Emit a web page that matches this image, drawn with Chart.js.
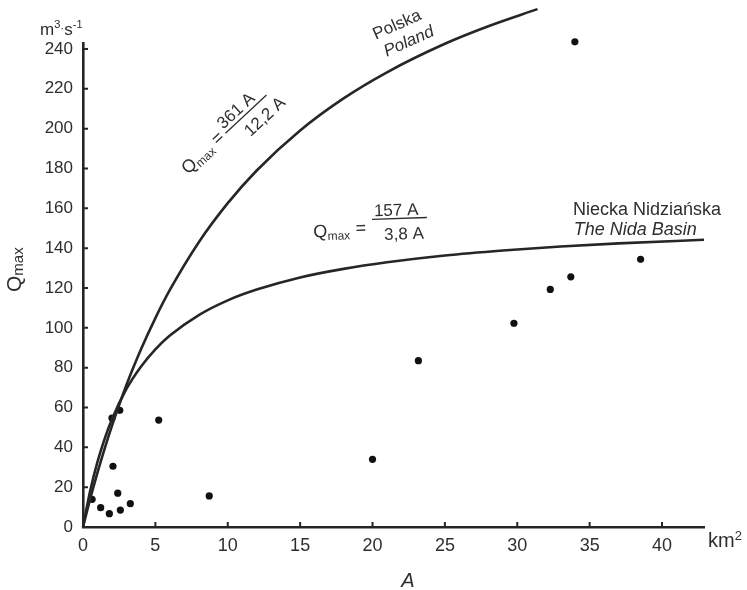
<!DOCTYPE html>
<html>
<head>
<meta charset="utf-8">
<script src="https://cdn.jsdelivr.net/npm/chart.js@4"></script>
<style>
  body { margin: 0; background: #fff; }
  canvas { display: block; }
</style>
</head>
<body>
<canvas id="qmaxChart" width="747" height="590"></canvas>
<script>
// observed maximum discharges (A in km2, Q in m3/s)
const areaObs = [0.63, 1.22, 1.82, 2.58, 3.27, 2.4, 2.07, 2.0, 2.54, 5.23, 8.72, 20.0, 23.17, 29.77, 32.28, 33.7, 33.98, 38.52];
const qObs = [13.9, 9.7, 6.7, 8.5, 11.7, 17, 30.5, 54.7, 58.6, 53.7, 15.6, 34, 83.5, 102.3, 119.3, 125.6, 243.6, 134.4];

// envelope curves
const polskaA = [0, 0.5, 1, 1.5, 2, 3, 4, 5, 6, 8, 10, 12, 15, 18, 21, 25, 28, 31.4];
const polskaQ = [0, 14.2, 27.3, 39.5, 50.8, 71.3, 89.1, 104.9, 119.0, 143.0, 162.6, 179.0, 199.1, 215.2, 228.3, 242.6, 251.4, 260.0];
const nidaA = [0, 0.5, 1, 1.5, 2, 3, 4, 5, 6, 8, 10, 12, 15, 18, 21, 25, 29, 33, 37, 42.9];
const nidaQ = [0, 18.3, 32.7, 44.4, 54.1, 69.3, 80.5, 89.2, 96.1, 106.4, 113.8, 119.2, 125.3, 129.6, 132.9, 136.3, 138.8, 140.8, 142.4, 144.2];

const xTicks = [0, 5, 10, 15, 20, 25, 30, 35, 40];
const yTicks = [0, 20, 40, 60, 80, 100, 120, 140, 160, 180, 200, 220, 240];
const xMax = 42.9;
const yMax = 243;

const FONT = '"Liberation Sans", Arial, sans-serif';
const INK = '#262626';
const TEXT = '#2e2e2e';

const pairs = (xs, ys) => xs.map((x, i) => ({ x: x, y: ys[i] }));

// draws a run of text pieces with their own size / vertical shift
function drawRun(ctx, x, y, parts) {
    ctx.textAlign = 'left';
    ctx.textBaseline = 'alphabetic';
    parts.forEach(p => {
        ctx.font = (p.italic ? 'italic ' : '') + p.size + 'px ' + FONT;
        ctx.fillText(p.t, x, y + (p.dy || 0));
        x += ctx.measureText(p.t).width;
    });
    return x;
}

function drawFormula(ctx, cx, cy, angle, f) {
    ctx.save();
    ctx.translate(cx, cy);
    ctx.rotate(angle * Math.PI / 180);
    ctx.strokeStyle = TEXT;
    ctx.lineWidth = 1.3;
    ctx.beginPath();
    ctx.moveTo(-f.half, 0);
    ctx.lineTo(f.half, 0);
    ctx.stroke();
    ctx.font = '17px ' + FONT;
    ctx.textAlign = 'center';
    ctx.textBaseline = 'alphabetic';
    ctx.fillText(f.num, f.numDx, f.numY);
    ctx.fillText(f.den, f.denDx, f.denY);
    ctx.textBaseline = 'middle';
    ctx.font = '18px ' + FONT;
    ctx.fillText('=', f.eqX, f.eqY);
    drawRun(ctx, f.qX, f.qY, [{ t: 'Q', size: 18 }, { t: 'max', size: 12, dy: 3 }]);
    ctx.restore();
}

const figureText = {
    id: 'figureText',
    afterDraw(chart) {
        const ctx = chart.ctx;
        const sx = chart.scales.x, sy = chart.scales.y;
        const x0 = sx.getPixelForValue(0), y0 = sy.getPixelForValue(0);

        // inward tick marks
        ctx.save();
        ctx.strokeStyle = INK;
        ctx.lineWidth = 2;
        ctx.beginPath();
        xTicks.forEach(v => {
            const px = sx.getPixelForValue(v);
            ctx.moveTo(px, y0);
            ctx.lineTo(px, y0 - 5);
        });
        yTicks.forEach(v => {
            const py = sy.getPixelForValue(v);
            ctx.moveTo(x0, py);
            ctx.lineTo(x0 + 5, py);
        });
        ctx.stroke();

        ctx.fillStyle = TEXT;

        // axis titles and units
        ctx.save();
        ctx.translate(21, 292);
        ctx.rotate(-Math.PI / 2);
        drawRun(ctx, 0, 0, [{ t: 'Q', size: 21 }, { t: 'max', size: 15, dy: 2 }]);
        ctx.restore();

        drawRun(ctx, 40, 35, [{ t: 'm', size: 17 }, { t: '3', size: 11, dy: -7 }, { t: '·', size: 12, dy: -3 }, { t: 's', size: 17 }, { t: '-1', size: 11, dy: -7 }]);
        drawRun(ctx, 708, 547, [{ t: 'km', size: 20 }, { t: '2', size: 13, dy: -7 }]);

        ctx.font = 'italic 20px ' + FONT;
        ctx.textAlign = 'center';
        ctx.fillText('A', 408, 587);

        // curve labels
        ctx.save();
        ctx.translate(sx.getPixelForValue(21.7), sy.getPixelForValue(252));
        ctx.rotate(-24 * Math.PI / 180);
        ctx.textAlign = 'center';
        ctx.textBaseline = 'middle';
        ctx.font = '17px ' + FONT;
        ctx.fillText('Polska', 0, 0);
        ctx.font = 'italic 17px ' + FONT;
        ctx.fillText('Poland', 4, 20);
        ctx.restore();

        ctx.textAlign = 'left';
        ctx.textBaseline = 'alphabetic';
        ctx.font = '18px ' + FONT;
        ctx.fillText('Niecka Nidziańska', sx.getPixelForValue(33.85), sy.getPixelForValue(156.6));
        ctx.font = 'italic 18px ' + FONT;
        ctx.fillText('The Nida Basin', sx.getPixelForValue(33.9), sy.getPixelForValue(146.6));

        // formulas
        drawFormula(ctx, sx.getPixelForValue(11.26), sy.getPixelForValue(207.3), -43, {
            half: 28, num: '361 A', numDx: -5, numY: -4, den: '12,2 A', denDx: 12, denY: 20,
            eqX: -37, eqY: -1, qX: -84, qY: 5
        });
        drawFormula(ctx, sx.getPixelForValue(21.86), sy.getPixelForValue(154.9), -2, {
            half: 27.5, num: '157 A', numDx: -3, numY: -3, den: '3,8 A', denDx: 4, denY: 21,
            eqX: -39, eqY: 9, qX: -86.5, qY: 16
        });
        ctx.restore();
    }
};

const tickFont = size => ({ family: FONT, size: size });

new Chart(document.getElementById('qmaxChart'), {
    type: 'scatter',
    data: {
        datasets: [
            {
                label: 'Polska',
                data: pairs(polskaA, polskaQ),
                showLine: true,
                borderColor: INK,
                borderWidth: 2.6,
                pointRadius: 0,
                cubicInterpolationMode: 'monotone',
                clip: false
            },
            {
                label: 'Niecka Nidziańska',
                data: pairs(nidaA, nidaQ),
                showLine: true,
                borderColor: INK,
                borderWidth: 2.6,
                pointRadius: 0,
                cubicInterpolationMode: 'monotone',
                clip: false
            },
            {
                label: 'Pomiary',
                data: pairs(areaObs, qObs),
                backgroundColor: '#111',
                borderWidth: 0,
                pointRadius: 3.6,
                clip: false
            }
        ]
    },
    options: {
        responsive: false,
        animation: false,
        devicePixelRatio: 1,
        layout: { padding: { left: 43, right: 43, top: 43, bottom: 23 } },
        plugins: {
            legend: { display: false },
            tooltip: { enabled: false }
        },
        scales: {
            x: {
                type: 'linear',
                min: 0,
                max: xMax,
                afterBuildTicks: s => { s.ticks = xTicks.map(v => ({ value: v })); },
                afterFit: s => { s.height = 40; },
                grid: { display: false, drawTicks: false },
                border: { display: true, color: INK, width: 2.6 },
                ticks: { padding: 8, color: TEXT, font: tickFont(18), maxRotation: 0, autoSkip: false }
            },
            y: {
                type: 'linear',
                min: 0,
                max: yMax,
                afterBuildTicks: s => { s.ticks = yTicks.map(v => ({ value: v })); },
                afterFit: s => { s.width = 40; },
                grid: { display: false, drawTicks: false },
                border: { display: true, color: INK, width: 2.6 },
                ticks: { padding: 10, color: TEXT, font: tickFont(17), autoSkip: false }
            }
        }
    },
    plugins: [figureText]
});
</script>
</body>
</html>
